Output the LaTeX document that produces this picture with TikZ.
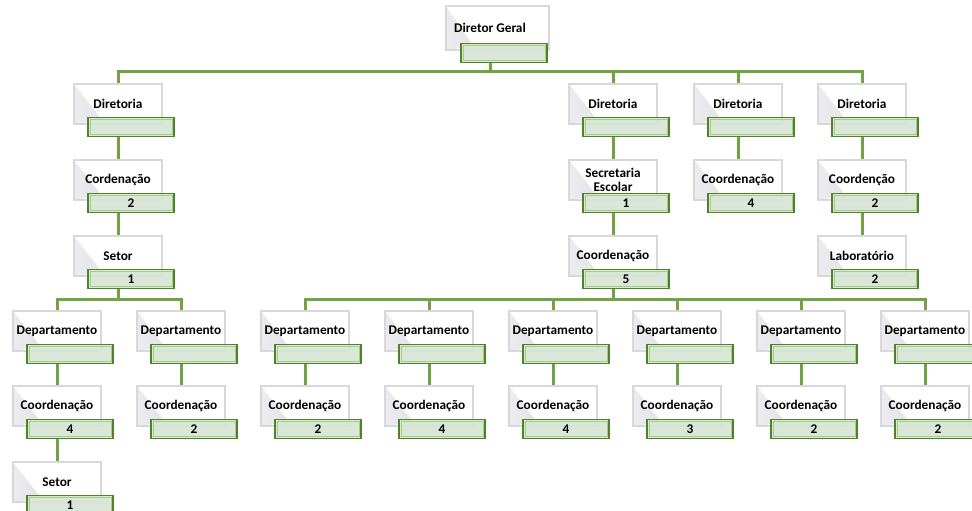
\documentclass[tikz,border=0pt]{standalone}
\usepackage{fontspec}
\setmainfont{Carlito}
\pgfdeclarelayer{background}
\pgfsetlayers{background,main}
\definecolor{conngreen}{RGB}{113,163,68}
\definecolor{gborder}{RGB}{79,129,46}
\definecolor{ginner}{RGB}{165,208,125}
\definecolor{gfill}{RGB}{214,228,212}
\definecolor{wborder}{RGB}{216,216,220}
\definecolor{tridark}{RGB}{204,204,216}
\definecolor{trilight}{RGB}{236,236,240}
\tikzset{
  wbox/.style={rectangle, minimum width=88, minimum height=40, inner sep=2,
    align=center, fill=white, draw=wborder, line width=2,
    font=\fontsize{13.3}{14}\selectfont\bfseries,
    path picture={\shade[left color=trilight, right color=tridark]
      (path picture bounding box.north west) --
      ([xshift=28pt,yshift=4pt]path picture bounding box.south west) --
      (path picture bounding box.south west) -- cycle;}},
  gbox/.style={rectangle, minimum width=86, minimum height=19, inner sep=0,
    fill=gfill, fill opacity=0.9, text opacity=1, draw=gborder, line width=1.6,
    font=\fontsize{13.3}{14}\selectfont\bfseries,
    path picture={\draw[ginner, line width=1]
      ([xshift=2pt,yshift=-2pt]path picture bounding box.north west) rectangle
      ([xshift=-2pt,yshift=2pt]path picture bounding box.south east);}},
  conn/.style={draw=conngreen, line width=3}
}
\newcommand\orgunit[5]{%
  \node[wbox] (#1) at (#2,#3) {#4};
  \node[gbox] (#1g) at (#2+13,#3+23) {#5};
}
\begin{document}
\begin{tikzpicture}[x=1pt,y=-1pt]
\useasboundingbox (0,0) rectangle (972,511);
% Director
\node[wbox, minimum width=103, minimum height=44] (dg) at (497,28) {\hspace*{-14pt}Diretor Geral};
\node[gbox] (dgg) at (504,53) {};
% column A
\orgunit{a1}{118}{104}{Diretoria}{}
\orgunit{a2}{118}{180}{Cordenação}{2}
\orgunit{a3}{118}{256}{Setor}{1}
\orgunit{a4}{57}{331}{Departamento}{}
\orgunit{a6}{57}{406}{Coordenação}{4}
\orgunit{a8}{57}{482}{Setor}{1}
\orgunit{a5}{181}{331}{Departamento}{}
\orgunit{a7}{181}{406}{Coordenação}{2}
% column B
\orgunit{b1}{613}{104}{Diretoria}{}
\orgunit{b2}{613}{180}{Secretaria\\Escolar}{1}
\orgunit{b3}{613}{256}{Coordenação}{5}
% column C
\orgunit{c1}{738}{104}{Diretoria}{}
\orgunit{c2}{738}{180}{Coordenação}{4}
% column D
\orgunit{d1}{862}{104}{Diretoria}{}
\orgunit{d2}{862}{180}{Coordenção}{2}
\orgunit{d3}{862}{256}{Laboratório}{2}
% row E
\orgunit{e1}{305}{331}{Departamento}{}
\orgunit{e2}{429}{331}{Departamento}{}
\orgunit{e3}{553}{331}{Departamento}{}
\orgunit{e4}{677}{331}{Departamento}{}
\orgunit{e5}{801}{331}{Departamento}{}
\orgunit{e6}{925}{331}{Departamento}{}
\orgunit{f1}{305}{406}{Coordenação}{2}
\orgunit{f2}{429}{406}{Coordenação}{4}
\orgunit{f3}{553}{406}{Coordenação}{4}
\orgunit{f4}{677}{406}{Coordenação}{3}
\orgunit{f5}{801}{406}{Coordenação}{2}
\orgunit{f6}{925}{406}{Coordenação}{2}
\coordinate (topbus) at (490,72);
\coordinate (abus) at (118,299);
\coordinate (bbus) at (613,299);
\begin{pgfonlayer}{background}
\draw[conn] ([xshift=-14pt]dgg.south) -- (topbus);
\draw[conn] (a1.north) |- (topbus) -| (d1.north);
\draw[conn] (b1.north) -- (b1.north |- topbus);
\draw[conn] (c1.north) -- (c1.north |- topbus);
\draw[conn] (a1.center |- a1g.south) -- (a2.north);
\draw[conn] (a2.center |- a2g.south) -- (a3.north);
\draw[conn] (a3.center |- a3g.south) -- (abus);
\draw[conn] (a4.north) |- (abus) -| (a5.north);
\draw[conn] (a4.center |- a4g.south) -- (a6.north);
\draw[conn] (a6.center |- a6g.south) -- (a8.north);
\draw[conn] (a5.center |- a5g.south) -- (a7.north);
\draw[conn] (b1.center |- b1g.south) -- (b2.north);
\draw[conn] (b2.center |- b2g.south) -- (b3.north);
\draw[conn] (b3.center |- b3g.south) -- (bbus);
\draw[conn] (c1.center |- c1g.south) -- (c2.north);
\draw[conn] (d1.center |- d1g.south) -- (d2.north);
\draw[conn] (d2.center |- d2g.south) -- (d3.north);
\draw[conn] (e1.north) |- (bbus) -| (e6.north);
\foreach \i in {2,3,4,5} {\draw[conn] (e\i.north) -- (e\i.north |- bbus);}
\foreach \i in {1,...,6} {\draw[conn] (e\i.center |- e\i g.south) -- (f\i.north);}
\end{pgfonlayer}
\end{tikzpicture}
\end{document}
